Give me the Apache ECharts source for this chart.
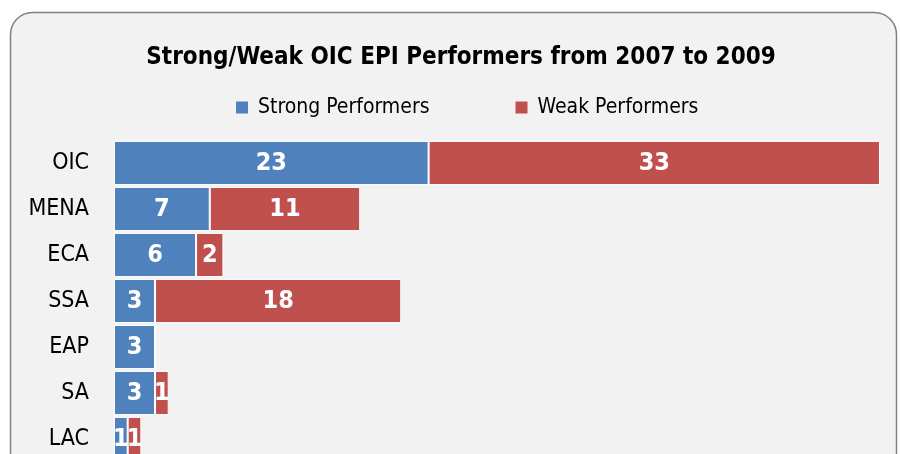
<!DOCTYPE html>
<html>
<head>
    <meta charset="utf-8">
    <title>ECharts</title>
    <script src="https://cdn.jsdelivr.net/npm/echarts@6/dist/echarts.min.js"></script>
    <style>
        html, body { margin: 0; padding: 0; background: #fff; overflow: hidden; }
    </style>
</head>
<body>
<div id="main" style="width: 900px;height:480px;"></div>
<script type="text/javascript">
    var regions = ['OIC', 'MENA', 'ECA', 'SSA', 'EAP', 'SA', 'LAC'];
    var strongPerformers = [23, 7, 6, 3, 3, 3, 1];
    var weakPerformers = [33, 11, 2, 18, 0, 1, 1];

    var fontName = '"Liberation Sans Narrow", "DejaVu Sans Condensed", sans-serif';
    var myChart = echarts.init(document.getElementById('main'));

    var barLabel = {
        show: true,
        position: 'inside',
        color: '#fff',
        fontFamily: fontName,
        fontWeight: 'bold',
        fontSize: 25,
        formatter: function (p) { return p.value ? p.value : ''; }
    };

    var option = {
        backgroundColor: '#fff',
        textStyle: { fontFamily: fontName },
        graphic: [{
            type: 'rect',
            z: -10,
            shape: { x: 10.5, y: 12.5, width: 886, height: 500, r: 22 },
            style: { fill: '#f2f2f2', stroke: '#808080', lineWidth: 1.5 }
        }],
        title: {
            text: 'Strong/Weak OIC EPI Performers from 2007 to 2009',
            left: 456,
            textAlign: 'center',
            top: 41,
            textStyle: { fontFamily: fontName, fontWeight: 'bold', fontSize: 24, color: '#000' }
        },
        legend: {
            data: ['Strong Performers', 'Weak Performers'],
            left: 231,
            top: 92,
            itemWidth: 12,
            itemHeight: 12,
            itemGap: 86,
            icon: 'rect',
            itemStyle: { borderWidth: 0 },
            textStyle: { fontFamily: fontName, fontSize: 21, color: '#000', padding: [0, 0, 0, 5] }
        },
        grid: { left: 114, top: 140, width: 766, height: 322 },
        xAxis: {
            type: 'value',
            min: 0,
            max: 56,
            show: false
        },
        yAxis: {
            type: 'category',
            inverse: true,
            data: regions,
            axisLine: { show: false },
            axisTick: { show: false },
            axisLabel: { color: '#000', fontFamily: fontName, fontSize: 23, margin: 25 }
        },
        series: [{
            name: 'Strong Performers',
            type: 'bar',
            stack: 'total',
            barCategoryGap: '4%',
            data: strongPerformers,
            itemStyle: { color: '#4f81bd', borderColor: '#fff', borderWidth: 1 },
            label: barLabel
        }, {
            name: 'Weak Performers',
            type: 'bar',
            stack: 'total',
            barCategoryGap: '4%',
            data: weakPerformers,
            itemStyle: { color: '#c0504d', borderColor: '#fff', borderWidth: 1 },
            label: barLabel
        }]
    };
    myChart.setOption(option);
</script>
</body>
</html>
